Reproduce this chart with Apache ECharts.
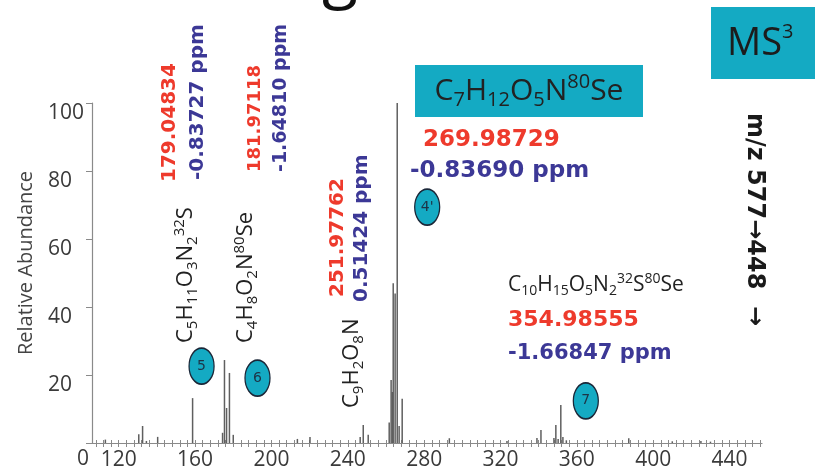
<!DOCTYPE html>
<html>
<head>
<meta charset="utf-8">
<script src="https://cdn.jsdelivr.net/npm/echarts@6/dist/echarts.min.js"></script>
<style>html,body{margin:0;padding:0;background:#fff}#chart{width:815px;height:476px}</style>
</head>
<body>
<div id="chart"></div>
<script>
// peaks (m/z, relative abundance)
const mz =        [113, 130.5, 132.5, 134.5, 140.4, 158.7, 174.4, 175.4, 176.5, 178.0, 180.0, 213.6, 220.2, 246.5, 248.1, 250.7,
                   261.7, 262.7, 263.3, 263.8, 264.8, 265.9, 266.9, 268.5, 293.2, 323.4, 339.1, 341.2, 348.0, 349.0, 350.2,
                   351.6, 352.7, 354.5, 387.2, 410, 425, 430];
const abundance = [1.0, 2.6, 5.0, 0.6, 1.8, 13.2, 3.0, 24.4, 10.3, 20.6, 2.4, 1.2, 1.8, 1.8, 5.3, 2.4,
                   6, 18.5, 15, 47, 44, 100, 5, 13, 1.4, 0.6, 1.5, 3.8, 1.5, 5.3, 1.2,
                   11.2, 1.8, 0.8, 1.4, 0.5, 0.6, 0.4];

const xLabels = [120, 160, 200, 240, 280, 320, 360, 400, 440];
const yLabels = [0, 20, 40, 60, 80, 100];
const xTicks = [];
for (let v = 108; v <= 456; v += 4) xTicks.push(v);

// numbered fragment markers: [m/z, abundance] and their labels
const markerPos = [[163.4, 22.6], [192.7, 19.1], [281.6, 69.4], [364.7, 12.4]];
const markerNames = ['5', '6', "4'", '7'];

const CYAN = '#14aac3';
const RED = '#ee3a2c';
const BLUE = '#3c3896';

const chart = echarts.init(document.getElementById('chart'));

function txt(x, y, text, o) {
  return {
    type: 'text', x: x, y: y, rotation: o.rot || 0, silent: true,
    style: {
      text: text,
      fontSize: o.size, fontFamily: o.family || 'DejaVu Sans', fontWeight: o.weight || 'normal',
      fill: o.color || '#222',
      align: o.align || 'left', textAlign: o.align || 'left',
      verticalAlign: 'middle', textVerticalAlign: 'middle',
      lineHeight: o.lh || Math.round(o.size * 1.2),
      rich: o.rich
    }
  };
}

function formula(x, y, text, size, rot, align) {
  const s = Math.round(size * 0.66);
  return txt(x, y, text, {
    size: size, family: 'Open Sans', color: '#222', rot: rot, align: align,
    lh: Math.round(size * 1.25),
    rich: {
      b: { fontSize: s, lineHeight: s, verticalAlign: 'bottom', fontFamily: 'Open Sans', color: '#222' },
      p: { fontSize: s, lineHeight: s, verticalAlign: 'top', fontFamily: 'Open Sans', color: '#222' }
    }
  });
}

const up = Math.PI / 2;

chart.setOption({
  animation: false,
  grid: { left: 92, right: 53, top: 103, bottom: 33, containLabel: false, outerBoundsMode: 'none' },
  xAxis: [{
    type: 'value', min: 106, max: 457,
    axisLine: { lineStyle: { color: '#8a8a8a', width: 1.2 } },
    axisTick: { customValues: xTicks, length: 4, lineStyle: { color: '#8a8a8a' } },
    axisLabel: { customValues: xLabels, color: '#3a3a3a', fontSize: 21, fontFamily: 'Open Sans', margin: 7 },
    splitLine: { show: false }
  }, {
    type: 'value', min: 106, max: 457, position: 'bottom',
    axisLine: { show: false },
    axisTick: { customValues: xTicks, inside: true, length: 3, lineStyle: { color: '#8a8a8a' } },
    axisLabel: { show: false },
    splitLine: { show: false }
  }],
  yAxis: {
    type: 'value', min: 0, max: 100, interval: 20,
    name: 'Relative Abundance', nameLocation: 'middle', nameGap: 56,
    nameTextStyle: { color: '#444', fontSize: 20, fontFamily: 'Open Sans', padding: [0, 0, 0, 20] },
    axisLine: { show: true, lineStyle: { color: '#8a8a8a', width: 1.2 } },
    axisTick: { show: true, length: 6, lineStyle: { color: '#8a8a8a' } },
    axisLabel: {
      color: '#3a3a3a', fontSize: 21, fontFamily: 'Open Sans', align: 'left', verticalAlign: 'top', margin: 44,
      formatter: v => v === 0 ? '{z|0}' : String(v),
      rich: { z: { padding: [6, 0, 0, 29], fontSize: 21, fontFamily: 'Open Sans', color: '#3a3a3a' } }
    },
    splitLine: { show: false }
  },
  series: [{
    type: 'bar', xAxisIndex: 0, barWidth: 1.5,
    itemStyle: { color: '#5f5f5f' },
    data: mz.map((m, i) => [m, abundance[i]])
  }, {
    type: 'scatter', xAxisIndex: 0,
    symbol: 'circle', symbolSize: [25, 36],
    itemStyle: { color: CYAN, borderColor: '#1b2738', borderWidth: 1.5, opacity: 1 },
    label: { show: true, position: 'inside', color: '#1d3346', fontSize: 14, fontFamily: 'DejaVu Sans',
      formatter: p => markerNames[p.dataIndex] },
    data: markerPos,
    z: 5
  }],
  graphic: [
    // cut-off title glyph at the top
    txt(340, -24, 'g', { size: 66, family: 'Open Sans', color: '#111', align: 'center' }),
    // MS3 box
    { type: 'rect', shape: { x: 711, y: 7, width: 110, height: 72 }, style: { fill: CYAN }, silent: true },
    txt(727, 44, 'MS{p|3}', { size: 38, family: 'Open Sans', color: '#1c1c1c', lh: 44,
      rich: { p: { fontSize: 20, lineHeight: 20, verticalAlign: 'top', fontFamily: 'Open Sans', color: '#1c1c1c' } } }),
    // precursor formula box
    { type: 'rect', shape: { x: 415, y: 65, width: 228, height: 52 }, style: { fill: CYAN }, silent: true },
    formula(529, 91, 'C{b|7}H{b|12}O{b|5}N{p|80}Se', 30, 0, 'center'),
    txt(423, 140, '269.98729', { size: 23, weight: 'bold', color: RED }),
    txt(410, 171, '-0.83690 ppm', { size: 23, weight: 'bold', color: BLUE }),
    // fragment 5
    txt(170, 182, '179.04834', { size: 20, weight: 'bold', color: RED, rot: up }),
    txt(198, 180, '-0.83727 ppm', { size: 20, weight: 'bold', color: BLUE, rot: up }),
    formula(186, 343, 'C{b|5}H{b|11}O{b|3}N{b|2}{p|32}S', 22, up, 'left'),
    // fragment 6
    txt(255, 172, '181.97118', { size: 18, weight: 'bold', color: RED, rot: up }),
    txt(281, 172, '-1.64810 ppm', { size: 19, weight: 'bold', color: BLUE, rot: up }),
    formula(246, 343, 'C{b|4}H{b|8}O{b|2}N{p|80}Se', 22, up, 'left'),
    // fragment C9
    txt(338, 297, '251.97762', { size: 20, weight: 'bold', color: RED, rot: up }),
    txt(362, 302, '0.51424 ppm', { size: 20, weight: 'bold', color: BLUE, rot: up }),
    formula(352, 408, 'C{b|9}H{b|2}O{b|8}N', 22, up, 'left'),
    // fragment 7
    formula(508, 285, 'C{b|10}H{b|15}O{b|5}N{b|2}{p|32}S{p|80}Se', 21, 0, 'left'),
    txt(508, 320, '354.98555', { size: 22, weight: 'bold', color: RED }),
    txt(508, 354, '-1.66847 ppm', { size: 21, weight: 'bold', color: BLUE }),
    // transition
    txt(754, 113, 'm/z 577\u2192448  \u2192', { size: 24, weight: 'bold', color: '#1a1a1a', rot: -up })
  ]
});
</script>
</body>
</html>
